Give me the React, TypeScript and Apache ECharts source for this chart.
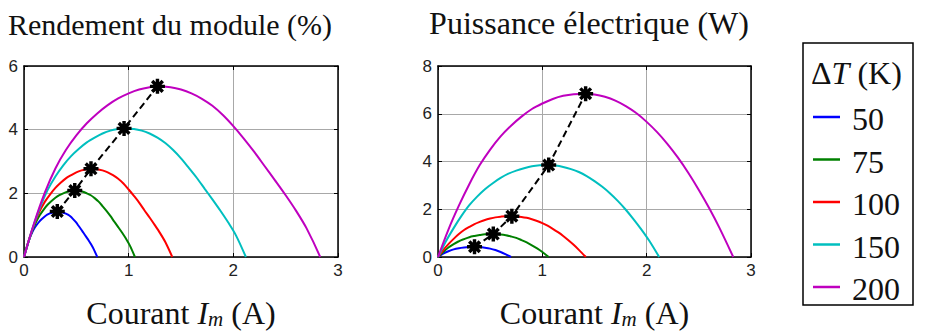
import React, { useEffect, useRef } from "react";
import * as echarts from "echarts";

// ---------- data ----------
const dTLabels = ["50", "75", "100", "150", "200"];
const curveColors = ["#0000ff", "#008000", "#ff0000", "#00bfbf", "#bf00bf"];

// Efficiency (%) vs current (A)
const effI50 = [0, 0.025, 0.049, 0.074, 0.099, 0.124, 0.148, 0.173, 0.198, 0.222, 0.247, 0.272, 0.296, 0.318, 0.346, 0.371, 0.395, 0.42, 0.445, 0.469, 0.494, 0.519, 0.543, 0.568, 0.593, 0.618, 0.642, 0.667, 0.7];
const eff50 = [0, 0.29, 0.54, 0.74, 0.9, 1.02, 1.12, 1.2, 1.27, 1.33, 1.37, 1.4, 1.42, 1.43, 1.42, 1.4, 1.37, 1.33, 1.27, 1.19, 1.1, 0.99, 0.88, 0.76, 0.64, 0.52, 0.39, 0.24, 0];
const effI75 = [0, 0.038, 0.075, 0.113, 0.15, 0.188, 0.225, 0.263, 0.3, 0.338, 0.375, 0.413, 0.45, 0.485, 0.525, 0.563, 0.6, 0.638, 0.675, 0.713, 0.75, 0.788, 0.825, 0.863, 0.9, 0.938, 0.975, 1.013, 1.06];
const eff75 = [0, 0.43, 0.79, 1.08, 1.31, 1.49, 1.64, 1.76, 1.86, 1.94, 2.0, 2.05, 2.08, 2.09, 2.08, 2.05, 2.0, 1.94, 1.85, 1.74, 1.6, 1.45, 1.29, 1.11, 0.94, 0.76, 0.57, 0.35, 0];
const effI100 = [0, 0.05, 0.1, 0.15, 0.2, 0.25, 0.3, 0.35, 0.4, 0.45, 0.5, 0.55, 0.6, 0.64, 0.7, 0.75, 0.8, 0.85, 0.9, 0.95, 1.0, 1.05, 1.1, 1.15, 1.2, 1.25, 1.3, 1.35, 1.417];
const eff100 = [0, 0.57, 1.05, 1.44, 1.74, 1.97, 2.17, 2.33, 2.47, 2.57, 2.66, 2.72, 2.76, 2.77, 2.76, 2.72, 2.66, 2.57, 2.46, 2.31, 2.12, 1.92, 1.71, 1.47, 1.24, 1.0, 0.75, 0.47, 0];
const effI150 = [0, 0.075, 0.15, 0.225, 0.3, 0.375, 0.45, 0.525, 0.6, 0.675, 0.75, 0.825, 0.9, 0.956, 1.05, 1.125, 1.2, 1.275, 1.35, 1.425, 1.5, 1.575, 1.65, 1.725, 1.8, 1.875, 1.95, 2.025, 2.12];
const eff150 = [0, 0.83, 1.53, 2.1, 2.53, 2.88, 3.17, 3.4, 3.6, 3.75, 3.88, 3.97, 4.02, 4.04, 4.02, 3.97, 3.88, 3.75, 3.58, 3.36, 3.1, 2.8, 2.49, 2.15, 1.81, 1.46, 1.09, 0.68, 0];
const effI200 = [0, 0.1, 0.2, 0.3, 0.4, 0.5, 0.6, 0.7, 0.8, 0.9, 1.0, 1.1, 1.2, 1.275, 1.4, 1.5, 1.6, 1.7, 1.8, 1.9, 2.0, 2.1, 2.2, 2.3, 2.4, 2.5, 2.6, 2.7, 2.83];
const eff200 = [0, 1.1, 2.03, 2.78, 3.36, 3.82, 4.2, 4.51, 4.77, 4.98, 5.14, 5.26, 5.33, 5.36, 5.33, 5.26, 5.14, 4.97, 4.75, 4.46, 4.11, 3.72, 3.3, 2.85, 2.4, 1.94, 1.45, 0.9, 0];

// Electrical power (W) vs current (A)
const powI50 = [0, 0.05, 0.1, 0.15, 0.2, 0.25, 0.3, 0.35, 0.4, 0.45, 0.5, 0.55, 0.6, 0.65, 0.7];
const pow50 = [0, 0.14, 0.24, 0.32, 0.37, 0.4, 0.42, 0.43, 0.42, 0.39, 0.35, 0.29, 0.21, 0.11, 0];
const powI75 = [0, 0.05, 0.1, 0.15, 0.2, 0.25, 0.3, 0.35, 0.4, 0.45, 0.53, 0.6, 0.65, 0.7, 0.75, 0.8, 0.85, 0.9, 0.95, 1.0, 1.06];
const pow75 = [0, 0.21, 0.4, 0.54, 0.66, 0.75, 0.83, 0.88, 0.92, 0.95, 0.96, 0.94, 0.91, 0.86, 0.8, 0.71, 0.61, 0.49, 0.36, 0.21, 0];
const powI100 = [0, 0.05, 0.1, 0.15, 0.2, 0.25, 0.3, 0.35, 0.4, 0.45, 0.5, 0.55, 0.6, 0.65, 0.708, 0.75, 0.8, 0.85, 0.9, 0.95, 1.0, 1.05, 1.1, 1.15, 1.2, 1.25, 1.3, 1.35, 1.417];
const pow100 = [0, 0.29, 0.54, 0.76, 0.96, 1.13, 1.26, 1.38, 1.47, 1.55, 1.61, 1.66, 1.69, 1.71, 1.71, 1.7, 1.68, 1.64, 1.58, 1.51, 1.42, 1.31, 1.18, 1.04, 0.88, 0.7, 0.51, 0.3, 0];
const powI150 = [0, 0.075, 0.15, 0.225, 0.3, 0.375, 0.45, 0.525, 0.6, 0.675, 0.75, 0.825, 0.9, 0.975, 1.061, 1.125, 1.2, 1.275, 1.35, 1.425, 1.5, 1.575, 1.65, 1.725, 1.8, 1.875, 1.95, 2.025, 2.12];
const pow150 = [0, 0.65, 1.21, 1.72, 2.17, 2.53, 2.84, 3.09, 3.31, 3.49, 3.62, 3.72, 3.8, 3.84, 3.85, 3.83, 3.77, 3.68, 3.56, 3.39, 3.18, 2.94, 2.66, 2.34, 1.98, 1.58, 1.15, 0.68, 0];
const powI200 = [0, 0.1, 0.2, 0.3, 0.4, 0.5, 0.6, 0.7, 0.8, 0.9, 1.0, 1.1, 1.2, 1.3, 1.415, 1.5, 1.6, 1.7, 1.8, 1.9, 2.0, 2.1, 2.2, 2.3, 2.4, 2.5, 2.6, 2.7, 2.83];
const pow200 = [0, 1.15, 2.15, 3.05, 3.85, 4.5, 5.05, 5.5, 5.88, 6.2, 6.43, 6.62, 6.75, 6.82, 6.84, 6.81, 6.71, 6.55, 6.32, 6.03, 5.66, 5.23, 4.73, 4.16, 3.52, 2.81, 2.04, 1.2, 0];

// Optimum points (black dashed line with stars)
const optEffI = [0.318, 0.485, 0.64, 0.956, 1.275];
const optEff = [1.43, 2.09, 2.77, 4.04, 5.36];
const optPowI = [0.35, 0.53, 0.708, 1.061, 1.415];
const optPow = [0.43, 0.96, 1.71, 3.85, 6.84];

// Axis ticks / texts
const xTicks = { min: 0, max: 3, interval: 1 };
const effTicks = { min: 0, max: 6, interval: 2 };
const powTicks = { min: 0, max: 8, interval: 2 };
const titleLeft = "Rendement du module (%)";
const titleRight = "Puissance électrique (W)";

const effSets = [[effI50, eff50], [effI75, eff75], [effI100, eff100], [effI150, eff150], [effI200, eff200]];
const powSets = [[powI50, pow50], [powI75, pow75], [powI100, pow100], [powI150, pow150], [powI200, pow200]];

// ---------- styling ----------
const SERIF = "Liberation Serif";
const SANS = "Liberation Sans";
const STAR =
  "path://M-10,-2.3L10,-2.3L10,2.3L-10,2.3Z M-2.3,-10L2.3,-10L2.3,10L-2.3,10Z M-5.44,-8.7L8.7,5.44L5.44,8.7L-8.7,-5.44Z M8.7,-5.44L-5.44,8.7L-8.7,5.44L5.44,-8.7Z";

const serifTok = (size: number, italic = false, lh = 36) => ({
  fontFamily: SERIF, fontSize: size, color: "#111", fontStyle: italic ? "italic" : "normal",
  lineHeight: lh, verticalAlign: "bottom",
});
const nameRich = { a: serifTok(32), i: serifTok(32, true), s: serifTok(21, true, 21) };

const axisLine = { show: true, onZero: false, lineStyle: { color: "#000", width: 1.5 } };
const axisTick = { show: true, inside: true, length: 4, lineStyle: { color: "#000", width: 1 } };
const gridLine = { show: true, lineStyle: { color: "#a8a8a8", width: 1 } };
const tickLabel = { fontFamily: SANS, fontSize: 17, color: "#222" };

function xMain(gi: number) {
  return {
    type: "value", gridIndex: gi, ...xTicks, position: "bottom",
    axisLine, axisTick, splitLine: gridLine,
    axisLabel: { ...tickLabel, margin: 5 },
    name: "{a|Courant }{i|I}{s|m}{a| (A)}", nameLocation: "middle", nameGap: 36,
    nameTextStyle: { rich: nameRich },
  };
}
function xTop(gi: number, title: string, shift: number, size: number) {
  return {
    type: "value", gridIndex: gi, ...xTicks, position: "top",
    axisLine, axisTick, splitLine: { show: false }, axisLabel: { show: false },
    name: `{t|${title}}`, nameLocation: "middle", nameGap: 27,
    nameTextStyle: { padding: [0, shift, 0, 0], rich: { t: serifTok(size, false, 34) } },
  };
}
function yMain(gi: number, t: any) {
  return {
    type: "value", gridIndex: gi, ...t, position: "left",
    axisLine, axisTick, splitLine: gridLine,
    axisLabel: { ...tickLabel, margin: 6 },
  };
}
function yRight(gi: number, t: any) {
  return {
    type: "value", gridIndex: gi, ...t, position: "right",
    axisLine, axisTick, splitLine: { show: false }, axisLabel: { show: false },
  };
}

// Legend text placed with the title component, aligned at (x, y)
function label(x: number, y: number, text: string) {
  return {
    text, left: x, top: y, padding: 0, itemGap: 0,
    textAlign: "left", textVerticalAlign: "middle",
    textStyle: {
      fontFamily: SERIF, fontSize: 32, fontWeight: "normal", color: "#111",
      rich: { a: serifTok(32, false, 36), i: serifTok(32, true, 36) },
    },
  };
}

function buildOption() {
  const series: any[] = [];
  effSets.forEach(([xs, ys], k) => {
    series.push({
      type: "line", name: dTLabels[k], xAxisIndex: 0, yAxisIndex: 0,
      data: xs.map((x, j) => [x, ys[j]]), symbol: "none", smooth: 0.3,
      lineStyle: { color: curveColors[k], width: 2 }, z: 3,
    });
  });
  powSets.forEach(([xs, ys], k) => {
    series.push({
      type: "line", name: dTLabels[k], xAxisIndex: 2, yAxisIndex: 2,
      data: xs.map((x, j) => [x, ys[j]]), symbol: "none", smooth: 0.3,
      lineStyle: { color: curveColors[k], width: 2 }, z: 3,
    });
  });
  const opt = (xi: number, yi: number, xs: number[], ys: number[]) => ({
    type: "line", xAxisIndex: xi, yAxisIndex: yi,
    data: xs.map((x, j) => [x, ys[j]]),
    symbol: STAR, symbolSize: 15, showAllSymbol: true,
    itemStyle: { color: "#000" },
    lineStyle: { color: "#000", width: 2, type: [7, 4] }, z: 5,
  });
  series.push(opt(0, 0, optEffI, optEff));
  series.push(opt(2, 2, optPowI, optPow));

  // legend box + samples as graphic, legend texts as titles
  const legendRows = [117, 159.5, 202, 244.5, 287];
  const graphic: any[] = [
    { type: "rect", z: 0, shape: { x: 803, y: 43, width: 110, height: 262 }, style: { fill: "#fff", stroke: "#000", lineWidth: 1.5 } },
  ];
  dTLabels.forEach((_, k) => {
    graphic.push({ type: "line", shape: { x1: 813, y1: legendRows[k], x2: 840, y2: legendRows[k] }, style: { stroke: curveColors[k], lineWidth: 2.5 } });
  });

  const titles: any[] = [label(811, 71, "{a|Δ}{i|T}{a| (K)}")];
  dTLabels.forEach((lab, k) => titles.push(label(852, legendRows[k], `{a|${lab}}`)));

  return {
    animation: false,
    backgroundColor: "#fff",
    title: titles,
    grid: [
      { left: 24, top: 66, width: 314, height: 198 },
      { left: 438, top: 66, width: 313, height: 198 },
    ],
    xAxis: [xMain(0), xTop(0, titleLeft, 22, 30), xMain(1), xTop(1, titleRight, 11, 32)],
    yAxis: [yMain(0, effTicks), yRight(0, effTicks), yMain(1, powTicks), yRight(1, powTicks)],
    series,
    graphic,
  };
}

export default function App() {
  const ref = useRef<HTMLDivElement>(null);
  useEffect(() => {
    if (!ref.current) return;
    const chart = echarts.init(ref.current, null, { renderer: "svg" });
    chart.setOption(buildOption() as any);
    return () => chart.dispose();
  }, []);
  return (
    <div
      ref={ref}
      style={{ position: "absolute", left: 0, top: 0, width: 933, height: 334, background: "#fff" }}
    />
  );
}
